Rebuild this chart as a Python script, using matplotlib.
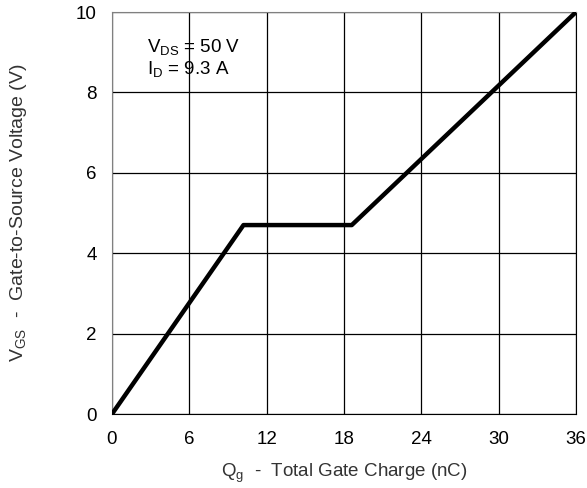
import matplotlib
matplotlib.use("Agg")
import matplotlib.pyplot as plt

# gate charge curve (Qg in nC, VGS in V)
qg = [0, 10.2, 18.6, 36]
vgs = [0, 4.7, 4.7, 10]

x_ticks = [0, 6, 12, 18, 24, 30, 36]
y_ticks = [0, 2, 4, 6, 8, 10]

plt.rcParams["font.family"] = ["Liberation Sans", "DejaVu Sans"]

fig = plt.figure(figsize=(5.87, 4.88), dpi=100)
ax = fig.add_axes([0.1908, 0.1516, 0.7905, 0.8238])

ax.plot(qg, vgs, color="black", lw=3.2, solid_capstyle="butt", zorder=3)

ax.set_xlim(0, 36)
ax.set_ylim(0, 10)
ax.set_xticks(x_ticks)
ax.set_yticks(y_ticks)
ax.grid(True, color="black", lw=0.9)
ax.tick_params(axis="x", length=0, labelsize=13.5, pad=12)
ax.tick_params(axis="y", length=0, labelsize=13.5, pad=11)
for side in ["left", "top"]:
    ax.spines[side].set_color("#808080")
for side in ["right", "bottom"]:
    ax.spines[side].set_color("black")

ax.text(2.7, 9.0, "V$_{\\mathregular{DS}}$ = 50 V", fontsize=13.5)
ax.text(2.7, 8.45, "I$_{\\mathregular{D}}$ = 9.3 A", fontsize=13.5)

ax.set_xlabel("Q$_{\\mathregular{g}}$  -  Total Gate Charge (nC)",
              fontsize=13.5, color="#333333", labelpad=10)
ax.set_ylabel("V$_{\\mathregular{GS}}$  -  Gate-to-Source Voltage (V)",
              fontsize=14, color="#333333", labelpad=34)

fig.savefig("out.png", dpi=100)
